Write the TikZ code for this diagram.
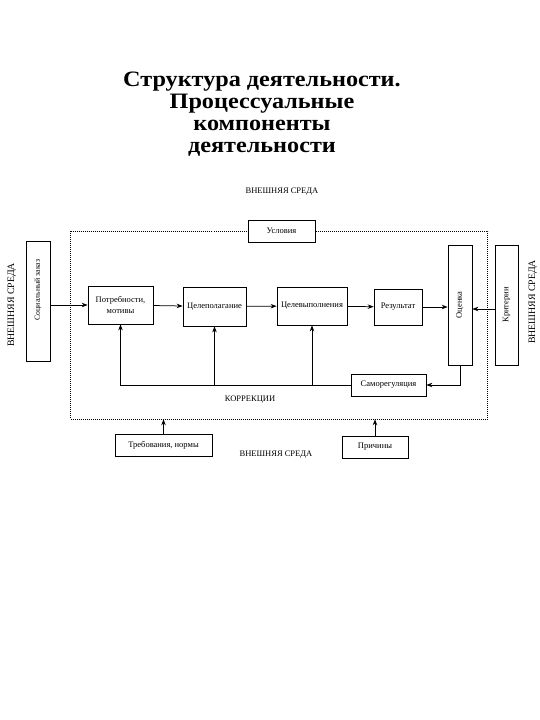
\documentclass[tikz,border=0pt]{standalone}
\usepackage{fontspec}
\setmainfont{Liberation Serif}
\usetikzlibrary{arrows.meta}
\begin{document}
\begin{tikzpicture}[x=1pt,y=-1pt,
  box/.style={draw, fill=white, line width=0.75pt, inner sep=1pt, align=center, font=\fontsize{8.5}{11}\selectfont},
  arr/.style={line width=0.75pt, -{Stealth[length=6pt,width=4.5pt]}},
  frame/.style={draw, line width=0.6pt, dash pattern=on 1pt off 1pt},
  lbl/.style={font=\fontsize{8.5}{10}\selectfont},
  vlbl/.style={font=\fontsize{9.8}{11}\selectfont}
]
\useasboundingbox (0,0) rectangle (540,720);
\fill[white] (0,0) rectangle (540,720);

\node[font=\bfseries\fontsize{22}{22}\selectfont, align=center, xscale=1.1] (title) at (262,114)
  {Структура деятельности.\\Процессуальные\\компоненты\\деятельности};

\node[frame, minimum width=417pt, minimum height=188pt] (frame) at (279,325) {};

\node[lbl] (envtop) at (282,192) {ВНЕШНЯЯ СРЕДА};
\node[vlbl] (envleft) at (12,305) {\rotatebox{90}{ВНЕШНЯЯ СРЕДА}};
\node[vlbl] (envright) at (533,302) {\rotatebox{90}{ВНЕШНЯЯ СРЕДА}};
\node[lbl] (envbot) at (276,455) {ВНЕШНЯЯ СРЕДА};
\node[lbl] (korr) at (250,400) {КОРРЕКЦИИ};

\node[box, minimum width=67pt, minimum height=22pt] (usl) at (281.5,231) {Условия};
\node[box, minimum width=24pt, minimum height=120pt] (soc) at (38,301) {\rotatebox{90}{\fontsize{7.8}{9}\selectfont\hspace{22pt}Социальный заказ}};
\node[box, minimum width=65pt, minimum height=38pt] (potr) at (120.5,305) {Потребности,\\мотивы};
\node[box, minimum width=63pt, minimum height=39pt] (celp) at (214.5,306.5) {Целеполагание};
\node[box, minimum width=70pt, minimum height=38pt] (celv) at (312,306) {Целевыполнения};
\node[box, minimum width=48pt, minimum height=36pt] (rez) at (398,307) {Результат};
\node[box, minimum width=24pt, minimum height=120pt] (ocen) at (460,305) {\rotatebox{90}{Оценка}};
\node[box, minimum width=23pt, minimum height=120pt] (krit) at (506.5,305) {\rotatebox{90}{Критерии}};
\node[box, minimum width=75pt, minimum height=22pt] (samo) at (388.5,385) {Саморегуляция};
\node[box, minimum width=97pt, minimum height=22pt] (treb) at (163.5,445) {Требования, нормы};
\node[box, minimum width=66pt, minimum height=22pt] (prich) at (375,447) {Причины};

\draw[arr] (soc.east |- potr.west) -- (potr.west);
\draw[arr] (potr) -- (celp);
\draw[arr] (celp) -- (celv);
\draw[arr] (celv) -- (rez);
\draw[arr] (rez.east) -- (rez.east -| ocen.west);
\draw[arr] (krit.west |- 0,309) -- (ocen.east |- 0,309);
\draw[arr] (ocen.south) |- (samo.east);
\draw[arr] (samo.west) -| (potr.south);
\draw[arr] (celp.south |- samo.west) -- (celp.south);
\draw[arr] (celv.south |- samo.west) -- (celv.south);
\draw[arr] (treb.north) -- (treb.north |- frame.south);
\draw[arr] (prich.north) -- (prich.north |- frame.south);
\end{tikzpicture}
\end{document}
